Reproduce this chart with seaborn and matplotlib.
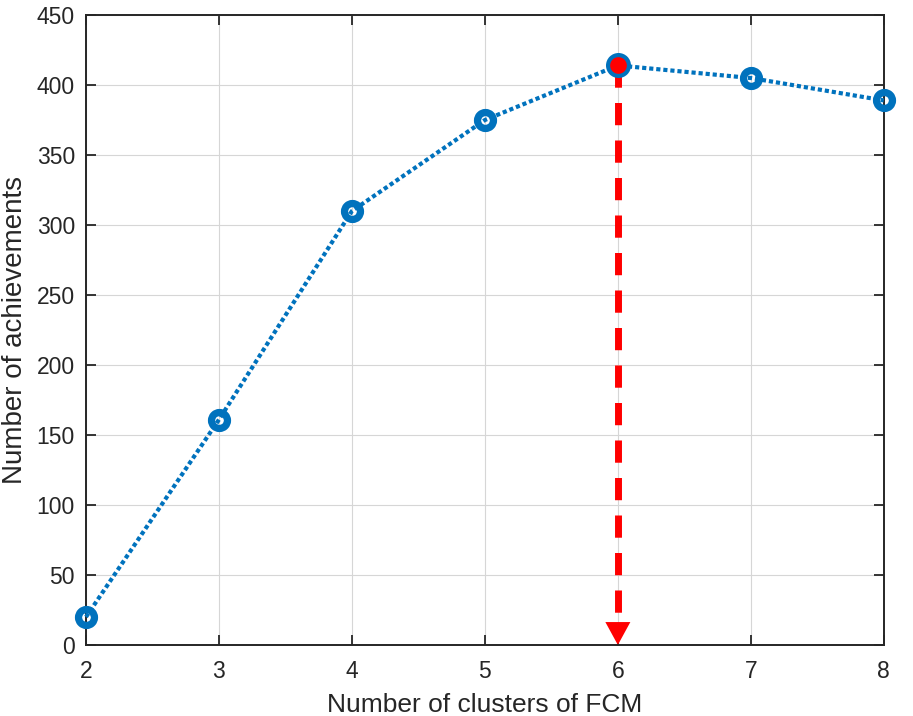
import numpy as np
import matplotlib
matplotlib.use("Agg")
import matplotlib.pyplot as plt
import seaborn as sns
import pandas as pd

clusters = [2, 3, 4, 5, 6, 7, 8]
achievements = [20, 161, 310, 375, 414, 405, 389]
best_k = 6
best_val = 414

sns.set_theme(style="whitegrid")
plt.rcParams['font.family'] = ['Liberation Sans', 'DejaVu Sans']

df = pd.DataFrame({"k": clusters, "n": achievements})

fig = plt.figure(figsize=(9.13, 7.16), dpi=100)
ax = fig.add_axes([0.0942, 0.0992, 0.8738, 0.8798])

sns.lineplot(data=df, x="k", y="n", ax=ax, color="#0072BD", linestyle=(0, (1, 0.7)),
             linewidth=3, marker="o", markersize=11.5, markerfacecolor="none",
             markeredgecolor="#0072BD", markeredgewidth=5.2, zorder=3, clip_on=False)

# arrow down from the maximum
ax.plot([best_k, best_k], [best_val, 16], color="red", linestyle=(0, (3.2, 2.2)),
        linewidth=5, zorder=2)
ax.annotate("", xy=(best_k, 0), xytext=(best_k, 17),
            arrowprops=dict(arrowstyle="-|>,head_width=0.6,head_length=1.1",
                            mutation_scale=15, color="red", lw=0,
                            shrinkA=0, shrinkB=0), zorder=2)
ax.plot([best_k], [best_val], "o", markersize=15, markerfacecolor="red",
        markeredgecolor="#0072BD", markeredgewidth=3, zorder=4, clip_on=False)

ax.set_xlim(2, 8)
ax.set_ylim(0, 450)
ax.set_xticks(clusters)
ax.set_yticks(np.arange(0, 451, 50))
ax.set_xlabel("Number of clusters of FCM", fontsize=19, color="#262626", labelpad=7)
ax.set_ylabel("Number of achievements", fontsize=20, color="#262626", labelpad=6)
ax.tick_params(axis="both", labelsize=16.5, colors="#262626", direction="in",
               length=7, width=1.3, pad=8, top=True, right=True)
ax.tick_params(axis="x", pad=11)
ax.xaxis.set_ticks_position("both")
ax.yaxis.set_ticks_position("both")
ax.grid(True, color="#d6d6d6", linewidth=0.8)
for s in ax.spines.values():
    s.set_color("#262626")
    s.set_linewidth(1.4)
ax.set_facecolor("white")

fig.savefig("out.png", dpi=100)
